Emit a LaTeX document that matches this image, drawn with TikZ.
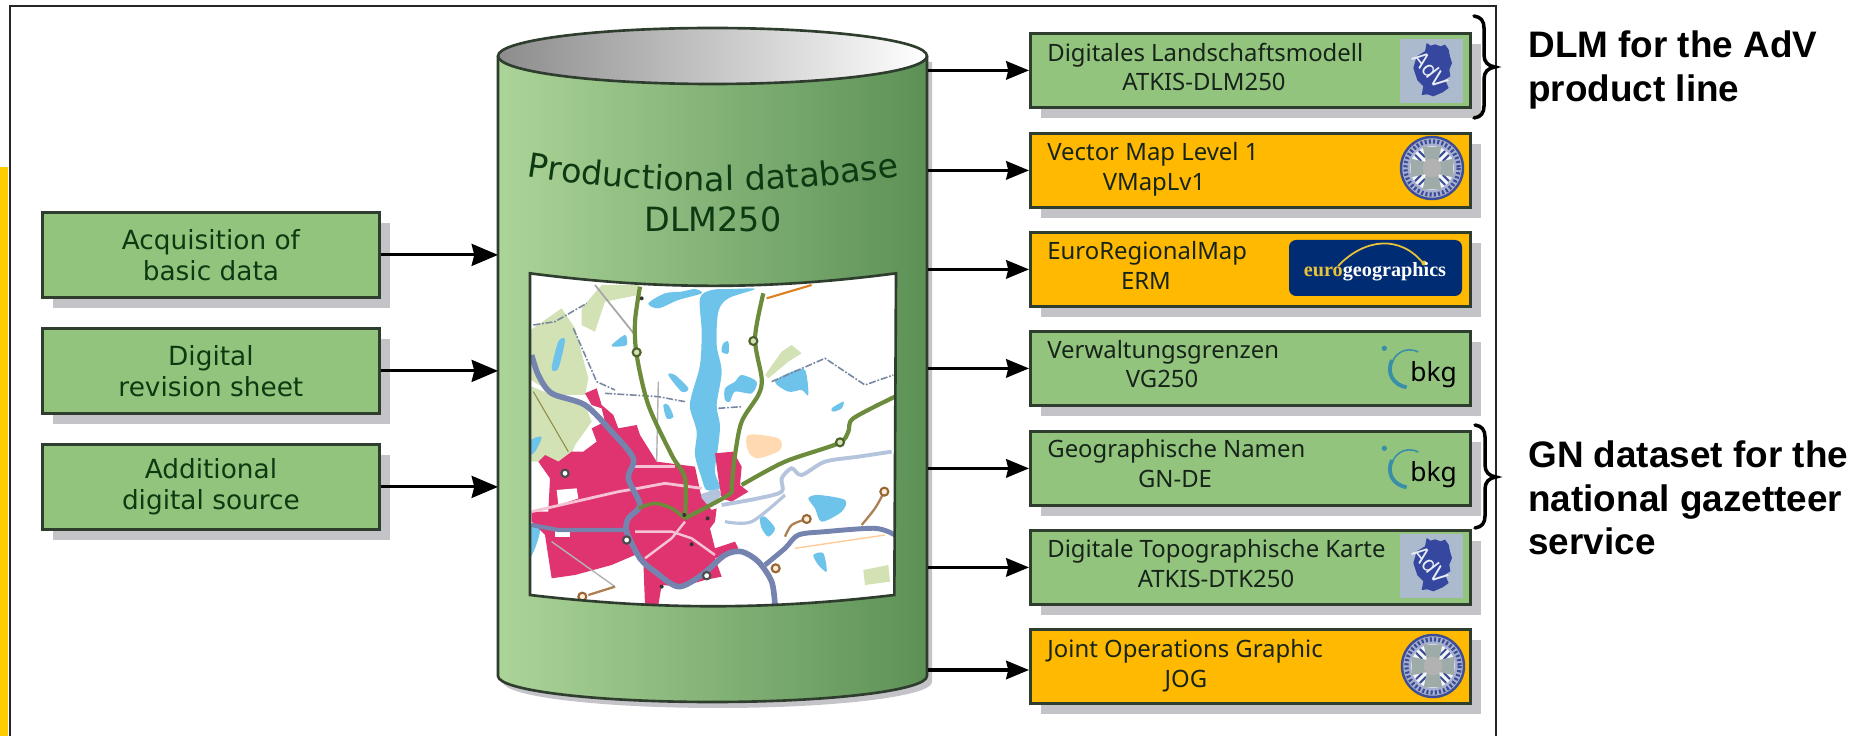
\documentclass[tikz,border=0pt]{standalone}
\usepackage{fontspec}
\usetikzlibrary{arrows.meta,shadows,decorations.text}
\newfontfamily\verdfont{DejaVu Sans}
\newfontfamily\tahfont{Noto Sans}
\newfontfamily\arialfont{Liberation Sans}
\newfontfamily\euroserif{Liberation Serif}
\newcommand{\pxu}{0.02cm}
\newcommand{\dbfont}{\verdfont\fontsize{19}{23}\selectfont\color{txtgreen}}

\definecolor{boxgreen}{HTML}{93C47D}
\definecolor{boxorange}{HTML}{FFB900}
\definecolor{edgedark}{HTML}{2F3D2F}
\definecolor{shadegrey}{HTML}{C4C4C8}
\definecolor{txtgreen}{HTML}{0E3A12}
\definecolor{txtink}{HTML}{16241A}
\definecolor{bodylight}{HTML}{ACD498}
\definecolor{bodydark}{HTML}{5C9156}
\definecolor{mapblue}{HTML}{6EC3EA}
\definecolor{mappale}{HTML}{D2E2B4}
\definecolor{mapcity}{HTML}{DF3470}
\definecolor{maproad}{HTML}{7484AE}
\definecolor{mapriver}{HTML}{B4C4DC}
\definecolor{mapolive}{HTML}{6C8C3C}
\definecolor{maplink}{HTML}{7888A0}
\definecolor{sealblue}{HTML}{3C4F96}
\definecolor{sealgrey}{HTML}{9FABA8}
\definecolor{eurobg}{HTML}{002C73}
\definecolor{eurogold}{HTML}{E8C23C}
\definecolor{bkgteal}{HTML}{3A8FA8}
\definecolor{baryellow}{HTML}{FFCC00}

\tikzset{
  boxsize/.style 2 args={minimum width=#1*\pxu,minimum height=#2*\pxu,inner sep=0pt,anchor=north west},
  prodbox/.style={draw=edgedark,line width=1.6pt,
    drop shadow={shadow xshift=6pt,shadow yshift=-6pt,fill=shadegrey,opacity=1}},
  sourcebox/.style={prodbox,fill=boxgreen,boxsize={337}{85},align=center,text=txtgreen,
    font=\verdfont\fontsize{15}{17.5}\selectfont},
  greenbox/.style={prodbox,fill=boxgreen,boxsize={440}{74}},
  orangebox/.style={prodbox,fill=boxorange,boxsize={440}{74}},
  linea/.style={anchor=base west,inner sep=0pt,text=txtink,font=\tahfont\fontsize{13.6}{16}\selectfont},
  lineb/.style={anchor=base,inner sep=0pt,text=txtink,font=\tahfont\fontsize{13.6}{16}\selectfont},
  flowin/.style={line width=1.8pt,-{Stealth[length=15pt,width=12.5pt,inset=1.5pt]}},
  flowout/.style={line width=1.8pt,-{Stealth[length=13pt,width=10.5pt,inset=1.2pt]}},
  sidenote/.style={anchor=north west,inner sep=0pt,align=left,text=black,
    font=\arialfont\bfseries\fontsize{21}{25}\selectfont},
  sidebrace/.style={line width=2pt,line cap=round},
  advlogo/.pic={
    \begin{scope}[scale=1/3]
      \fill[mapriver!85!gray] (0,0) rectangle (190,192);
      \fill[sealblue!90!blue] (80,12) -- (92,20) -- (105,16) -- (122,22) -- (135,17) -- (146,32) -- (150,52) -- (156,72) -- (148,92) -- (151,112) -- (135,122) -- (146,147) -- (128,160) -- (100,172) -- (82,166) -- (65,168) -- (70,142) -- (52,124) -- (40,87) -- (50,52) -- (75,37) -- cycle;
      \node[rotate=-52,inner sep=0pt,text=mapriver!30!white,font=\verdfont\fontsize{12}{12}\selectfont] (advname) at (92,92) {AdV};
    \end{scope}
  },
  seallogo/.pic={
    \begin{scope}[scale=1/3]
      \fill[sealblue!45!white,draw=sealblue,line width=1.4pt] (0,0) circle[radius=93];
      \draw[sealblue,line width=2.4pt,dash pattern=on 1.2pt off 1.2pt] (0,0) circle[radius=80];
      \fill[white!94!sealblue] (0,0) circle[radius=66];
      \foreach \a in {45,135,225,315}
        \draw[sealblue,line width=1.2pt,rotate=\a] (38,-8) -- (64,-8) (38,8) -- (64,8);
      \foreach \a in {0,90,180,270}
        \fill[sealgrey,rotate=\a] (-28,-64) -- (28,-64) -- (14,0) -- (-14,0) -- cycle;
      \fill[gray!60] (0,0) circle[radius=28];
    \end{scope}
  },
  bkglogo/.pic={
    \begin{scope}[scale=1/3]
      \fill[bkgteal] (43,55) circle[radius=8];
      \draw[bkgteal,line width=0.9pt] (145,66) .. controls (100,45) and (70,80) .. (66,100);
      \draw[bkgteal,line width=2.2pt] (66,90) .. controls (48,130) and (70,165) .. (110,172);
      \node[anchor=base west,inner sep=0pt,text=black,font=\tahfont\bfseries\fontsize{15}{18}\selectfont] (bkgname) at (120,155) {bkg};
    \end{scope}
  }
}

\begin{document}
\begin{tikzpicture}[x=0.02cm,y=-0.02cm]
\useasboundingbox (0,0) rectangle (1867,736);

\fill[baryellow] (0,167) rectangle (8,736);
\draw[black!85,line width=1.3pt] (10,736) -- (10,6) -- (1496,6) -- (1496,736);

\node[boxsize={429}{674}] (db) at (498,28) {};

\fill[shadegrey] (503,62) -- (503,682) arc[start angle=180,end angle=0,x radius=214.5,y radius=26] -- (932,62) -- cycle;
\path[left color=bodylight,right color=bodydark] (498,56) -- (498,676) arc[start angle=180,end angle=0,x radius=214.5,y radius=26] -- (927,56) -- cycle;
\draw[edgedark,line width=1.5pt] (498,56) -- (498,676) arc[start angle=180,end angle=0,x radius=214.5,y radius=26] -- (927,56);
\draw[edgedark,line width=1.5pt,left color=gray!90,right color=white] (712.5,56) ellipse[x radius=214.5,y radius=28];

\path[decorate,decoration={text along path,text={|\dbfont|Productional database},text align=center}] (526,176) .. controls (650,196) and (775,196) .. (900,176);
\node[anchor=base,inner sep=0pt,text=txtgreen,font=\verdfont\fontsize{19}{23}\selectfont] (dbname) at (713,232) {DLM250};

\begin{scope}[shift={(525,265)},scale=1/3]
\begin{scope}
\clip (15,25) .. controls (400,75) and (730,75) .. (1113,25) -- (1108,990) .. controls (730,1035) and (400,1035) .. (15,990) -- cycle;
\fill[white] (0,0) rectangle (1140,1050);

\fill[mappale] (10,200) -- (110,130) -- (150,190) -- (190,340) -- (180,390) -- (90,390) -- (10,340) -- cycle;
\fill[mappale] (10,360) -- (80,390) -- (180,420) -- (200,470) -- (150,540) -- (130,590) -- (10,590) -- cycle;
\fill[mappale] (170,130) -- (230,60) -- (340,60) -- (340,90) -- (240,110) -- (210,200) -- (170,180) -- cycle;
\fill[mappale] (720,330) -- (770,260) -- (800,240) -- (830,265) -- (790,290) -- (730,340) -- cycle;
\fill[orange!30!white] plot[smooth cycle] coordinates {(670,510) (760,520) (765,555) (700,580) (670,560)};
\fill[mappale] (1015,915) -- (1090,900) -- (1095,950) -- (1020,960) -- cycle;

\fill[mapblue] plot[smooth cycle] coordinates {(525,100) (530,200) (525,300) (500,390) (495,430) (515,500) (510,570) (530,640) (545,675) (585,670) (570,620) (580,540) (585,480) (575,420) (590,320) (575,240) (580,140) (610,100) (690,72) (620,72) (560,75)};
\fill[mapblue] plot[smooth cycle] coordinates {(370,115) (420,85) (470,80) (510,72) (530,85) (460,105) (400,130)};
\fill[mapblue] plot[smooth cycle] coordinates {(260,240) (300,210) (305,240) (270,245)};
\fill[mapblue] plot[smooth cycle] coordinates {(80,310) (100,230) (120,225) (100,310)};
\fill[mapblue] plot[smooth cycle] coordinates {(430,330) (450,330) (490,370) (470,380)};
\fill[mapblue] plot[smooth cycle] coordinates {(415,420) (430,420) (445,455) (425,460)};
\fill[mapblue] plot[smooth cycle] coordinates {(595,235) (610,230) (610,265) (590,260)};
\fill[mapblue] plot[smooth cycle] coordinates {(600,370) (630,350) (650,330) (695,350) (680,385) (630,380) (615,410) (600,405)};
\fill[mapblue] plot[smooth cycle] coordinates {(750,350) (800,320) (840,315) (850,390) (830,375) (790,380)};
\fill[mapblue] plot[smooth cycle] coordinates {(920,430) (955,410) (950,430) (925,440)};
\fill[mapblue] plot[smooth cycle] coordinates {(10,530) (50,515) (30,560) (10,570)};
\fill[mapblue] plot[smooth cycle] coordinates {(850,700) (880,690) (960,705) (950,740) (890,770) (870,730)};
\fill[mapblue] plot[smooth cycle] coordinates {(705,760) (720,755) (750,790) (730,815) (710,790)};
\fill[mapblue] plot[smooth cycle] coordinates {(865,870) (895,865) (905,920) (880,900)};
\fill[mapblue] plot[smooth cycle] coordinates {(10,780) (45,790) (30,850) (10,880)};
\fill[mapriver] (520,690) -- (580,670) -- (590,690) -- (560,720) -- (520,730) -- cycle;

\fill[mapcity] (40,590) -- (60,570) -- (100,590) -- (140,560) -- (175,560) -- (215,530) -- (200,490) -- (240,470) -- (230,430) -- (200,420) -- (180,385) -- (215,370) -- (230,420) -- (265,450) -- (280,490) -- (335,480) -- (345,510) -- (395,590) -- (510,605) -- (530,700) -- (560,735) -- (575,730) -- (570,770) -- (555,790) -- (570,850) -- (630,830) -- (640,850) -- (570,880) -- (590,935) -- (540,945) -- (470,965) -- (410,960) -- (400,1020) -- (360,1020) -- (355,890) -- (330,870) -- (260,900) -- (150,930) -- (80,940) -- (60,810) -- (20,770) -- (20,740) -- (70,740) -- (75,640) -- cycle;
\fill[mapcity] (570,565) -- (625,560) -- (650,605) -- (645,660) -- (670,680) -- (620,710) -- (590,700) -- (580,640) -- cycle;
\fill[white] (95,675) -- (155,670) -- (160,700) -- (100,720) -- cycle;
\fill[white] (90,795) -- (135,795) -- (135,815) -- (90,815) -- cycle;

\draw[mapcity!30!white,line width=1.6pt] (20,740) -- (280,680) -- (340,670) -- (420,655) -- (530,670);
\draw[mapcity!30!white,line width=1.4pt] (320,605) -- (450,605);
\draw[mapcity!30!white,line width=1.4pt] (330,800) -- (440,800) -- (500,820) -- (570,870);
\draw[mapcity!30!white,line width=1.4pt] (360,880) -- (440,820) -- (480,770);

\draw[gray!70,line width=1pt] (210,60) -- (330,210);
\draw[olive!50!gray,line width=0.6pt] (25,380) -- (130,560);
\draw[orange!50!brown,line width=1.2pt] (725,100) -- (860,60);
\draw[orange!40!white,line width=0.8pt] (810,850) -- (1080,810);
\draw[gray!60,line width=0.8pt] (400,350) -- (395,590);
\draw[gray!60,line width=0.8pt] (80,830) -- (270,965);

\draw[mapriver,line width=2.2pt] plot[smooth] coordinates {(590,720) (700,700) (770,680) (770,640) (800,610) (830,630) (900,590) (1000,575) (1100,560)};
\draw[mapriver,line width=1.8pt] plot[smooth] coordinates {(600,770) (680,770) (780,690)};

\draw[maproad,line width=3.2pt] plot[smooth] coordinates {(20,270) (40,330) (80,385) (180,420) (260,500) (325,580) (310,640) (345,720) (310,760) (305,800) (345,880) (390,920) (460,965) (530,930) (600,870) (650,860) (700,890) (740,950) (750,1020)};
\draw[maproad,line width=2.4pt] (20,780) -- (100,795) -- (300,795);
\draw[maproad,line width=2.8pt] plot[smooth] coordinates {(720,900) (780,850) (820,810) (900,800) (1050,790) (1110,810)};

\draw[maplink,line width=0.9pt,dash pattern=on 4pt off 1pt on 1pt off 1pt] (25,180) -- (90,170) -- (185,115);
\draw[maplink,line width=0.9pt,dash pattern=on 4pt off 1pt on 1pt off 1pt] (145,190) -- (215,350) -- (270,375);
\draw[maplink,line width=0.9pt,dash pattern=on 4pt off 1pt on 1pt off 1pt] (240,385) -- (400,395) -- (480,410);
\draw[maplink,line width=0.9pt,dash pattern=on 4pt off 1pt on 1pt off 1pt] (580,430) -- (650,425);
\draw[maplink,line width=0.9pt,dash pattern=on 4pt off 1pt on 1pt off 1pt] (740,350) -- (900,280) -- (1020,360) -- (1105,330);

\draw[mapolive,line width=2.4pt] plot[smooth] coordinates {(345,65) (330,170) (335,270) (370,420) (440,570) (480,640) (480,760)};
\draw[mapolive,line width=2.4pt] plot[smooth] coordinates {(715,85) (690,220) (710,340) (700,390) (650,470) (630,570) (620,660) (610,690) (480,760)};
\draw[mapolive,line width=2.4pt] plot[smooth] coordinates {(650,660) (780,590) (940,535) (970,500) (985,460) (1110,395)};
\draw[mapolive,line width=2pt] plot[smooth] coordinates {(340,730) (390,715) (440,730) (480,760)};
\draw[brown!70!gray,line width=1.3pt] plot[smooth] coordinates {(780,815) (800,780) (845,762)};
\draw[brown!70!gray,line width=1.3pt] plot[smooth] coordinates {(1010,780) (1050,730) (1078,680)};
\draw[brown!70!gray,line width=1.3pt] (190,990) -- (270,965);

\foreach \cx/\cy in {335/262,685/228,945/532}
  \draw[mapolive!70!black,fill=mappale,line width=1.2pt] (\cx,\cy) circle[radius=12];
\foreach \cx/\cy in {120/625,305/825,545/932}
  \draw[black!70,fill=white,line width=1.2pt] (\cx,\cy) circle[radius=11];
\foreach \cx/\cy in {845/762,752/910,1078/680,172/995}
  \draw[brown!80!black,fill=orange!15!white,line width=1.2pt] (\cx,\cy) circle[radius=12];
\foreach \cx/\cy in {350/100,478/750,548/760,500/838,410/965}
  \fill[black!80] (\cx,\cy) circle[radius=6];
\end{scope}
\draw[edgedark,line width=1.5pt] (15,25) .. controls (400,75) and (730,75) .. (1113,25) -- (1108,990) .. controls (730,1035) and (400,1035) .. (15,990) -- cycle;
\end{scope}

\node[sourcebox] (acq) at (41,211) {Acquisition of\\basic data};
\node[sourcebox] (rev) at (41,327) {Digital\\revision sheet};
\node[sourcebox] (add) at (41,443) {Additional\\digital source};

\draw[flowin] (acq.east) -- (acq.east -| db.west);
\draw[flowin] (rev.east) -- (rev.east -| db.west);
\draw[flowin] (add.east) -- (add.east -| db.west);

\node[greenbox] (dlm) at (1029,32) {};
\node[orangebox] (vmap) at (1029,132) {};
\node[orangebox] (erm) at (1029,231) {};
\node[greenbox] (vg) at (1029,330) {};
\node[greenbox] (gn) at (1029,430) {};
\node[greenbox] (dtk) at (1029,529) {};
\node[orangebox] (jog) at (1029,628) {};

\draw[flowout] (dlm.west -| db.east) -- (dlm.west);
\draw[flowout] (vmap.west -| db.east) -- (vmap.west);
\draw[flowout] (erm.west -| db.east) -- (erm.west);
\draw[flowout] (vg.west -| db.east) -- (vg.west);
\draw[flowout] (gn.west -| db.east) -- (gn.west);
\draw[flowout] (dtk.west -| db.east) -- (dtk.west);
\coordinate (jogin) at (1029,670);
\draw[flowout] (jogin -| db.east) -- (jogin);

\node[linea] (dlma) at (1047,62) {Digitales Landschaftsmodell};
\node[lineb] (dlmb) at (1204,91) {ATKIS-DLM250};
\node[linea] (vmapa) at (1047,161) {Vector Map Level 1};
\node[lineb] (vmapb) at (1154,191) {VMapLv1};
\node[linea] (erma) at (1047,260) {EuroRegionalMap};
\node[lineb] (ermb) at (1146,290) {ERM};
\node[linea] (vga) at (1047,359) {Verwaltungsgrenzen};
\node[lineb] (vgb) at (1162,388) {VG250};
\node[linea] (gna) at (1047,458) {Geographische Namen};
\node[lineb] (gnb) at (1175,488) {GN-DE};
\node[linea] (dtka) at (1047,558) {Digitale Topographische Karte};
\node[lineb] (dtkb) at (1216,587) {ATKIS-DTK250};
\node[linea] (joga) at (1047,657) {Joint Operations Graphic};
\node[lineb] (jogb) at (1186,687) {JOG};

\pic at (1400,39) {advlogo};
\pic at (1400,534) {advlogo};
\pic at (1432,168) {seallogo};
\pic at (1433,666) {seallogo};
\pic at (1370,330) {bkglogo};
\pic at (1370,430) {bkglogo};

\fill[eurobg,rounded corners=4pt] (1289,240) rectangle (1462,296);
\draw[eurogold,line width=1pt] (1338,266) .. controls (1365,238) and (1400,235) .. (1423,263);
\fill[eurogold] (1424,263) circle[radius=2.5];
\node[anchor=base,inner sep=0pt,text=white,font=\euroserif\bfseries\fontsize{11.5}{14}\selectfont] (euroname) at (1375,277) {\textcolor{eurogold}{euro}geographics};

\draw[sidebrace] (1474,16) .. controls (1481,17) and (1484,21) .. (1484,28) -- (1484,55) .. controls (1484,62) and (1488,66) .. (1495,67) .. controls (1488,68) and (1484,72) .. (1484,79) -- (1484,106) .. controls (1484,113) and (1481,117) .. (1474,118);
\draw[sidebrace] (1475,425) .. controls (1482,426) and (1485,430) .. (1485,437) -- (1485,465) .. controls (1485,472) and (1489,476) .. (1496,477) .. controls (1489,478) and (1485,482) .. (1485,489) -- (1485,516) .. controls (1485,523) and (1482,527) .. (1475,528);

\node[sidenote] (dlmnote) at (1528,30) {DLM for the AdV\\product line};
\node[sidenote] (gnnote) at (1528,440) {GN dataset for the\\national gazetteer\\service};

\end{tikzpicture}
\end{document}
